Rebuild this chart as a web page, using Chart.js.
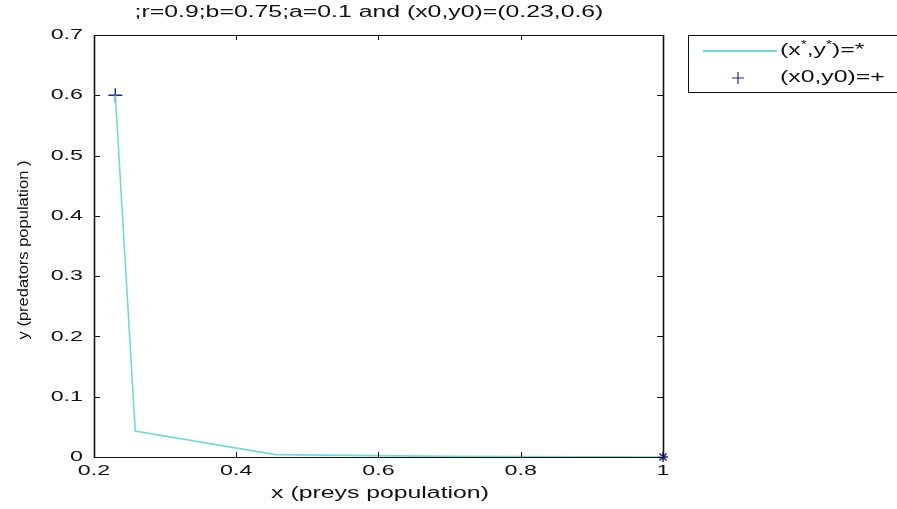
<!DOCTYPE html>
<html>
<head>
    <style>
        body { margin: 0; background: #fff; }
        #wrap { width: 897px; height: 509px; }
    </style>
    <script src="https://cdn.jsdelivr.net/npm/chart.js"></script>
    <title>Predator-prey</title>
</head>
<body>
    <div id="wrap"><canvas id="chart" width="897" height="509"></canvas></div>
    <script>
        // trajectory values
        const trajX = [0.23, 0.258, 0.455, 0.7, 1.0];
        const trajY = [0.6, 0.043, 0.004, 0.001, 0.0];
        const startX = [0.23];
        const startY = [0.6];
        const endX = [1.0];
        const endY = [0.0];

        const xTicks = [0.2, 0.4, 0.6, 0.8, 1.0];
        const xLabels = ['0.2', '0.4', '0.6', '0.8', '1'];
        const yTicks = [0, 0.1, 0.2, 0.3, 0.4, 0.5, 0.6, 0.7];
        const yLabels = ['0', '0.1', '0.2', '0.3', '0.4', '0.5', '0.6', '0.7'];

        const chartTitle = ';r=0.9;b=0.75;a=0.1 and (x0,y0)=(0.23,0.6)';
        const xTitle = 'x (preys population)';
        const yTitle = 'y (predators population )';

        const font = '"Liberation Sans", Arial, sans-serif';
        const lineColor = '#72d9dc';
        const markColor = '#1c2a8c';
        const stretch = 1.55;   // the picture's text is wider than it is tall

        const pts = (xs, ys) => xs.map((x, i) => ({ x: x, y: ys[i] }));

        // text drawn wider than normal, like the reference
        function wideText(ctx, t, x, y, align, size) {
            ctx.save();
            ctx.font = size + 'px ' + font;
            ctx.translate(x, y);
            ctx.scale(stretch, 1);
            ctx.textAlign = align;
            ctx.textBaseline = 'middle';
            ctx.fillText(t, 0, 0);
            const w = ctx.measureText(t).width * stretch;
            ctx.restore();
            return w;
        }

        // box, inward ticks, labels, titles and legend
        const decor = {
            id: 'decor',
            afterDraw(chart) {
                const ctx = chart.ctx;
                const a = chart.chartArea;
                const xs = chart.scales.x, ys = chart.scales.y;
                ctx.save();
                ctx.strokeStyle = '#111';
                ctx.lineWidth = 1;
                ctx.beginPath();
                ctx.moveTo(a.left, a.top + 0.5); ctx.lineTo(a.right, a.top + 0.5);
                ctx.moveTo(a.left, a.bottom + 0.5); ctx.lineTo(a.right, a.bottom + 0.5);
                xTicks.forEach(v => {
                    const px = Math.round(xs.getPixelForValue(v)) + 0.5;
                    ctx.moveTo(px, a.bottom); ctx.lineTo(px, a.bottom - 5);
                    ctx.moveTo(px, a.top); ctx.lineTo(px, a.top + 5);
                });
                yTicks.forEach(v => {
                    const py = Math.round(ys.getPixelForValue(v)) + 0.5;
                    ctx.moveTo(a.left, py); ctx.lineTo(a.left + 6, py);
                    ctx.moveTo(a.right, py); ctx.lineTo(a.right - 6, py);
                });
                ctx.stroke();
                ctx.lineWidth = 1.6;
                ctx.beginPath();
                ctx.moveTo(a.left + 0.5, a.top); ctx.lineTo(a.left + 0.5, a.bottom + 1);
                ctx.moveTo(a.right + 0.5, a.top); ctx.lineTo(a.right + 0.5, a.bottom + 1);
                ctx.stroke();

                ctx.fillStyle = '#111';
                xTicks.forEach((v, i) => wideText(ctx, xLabels[i], xs.getPixelForValue(v), 471, 'center', 15));
                yTicks.forEach((v, i) => wideText(ctx, yLabels[i], 83, ys.getPixelForValue(v), 'right', 15));

                wideText(ctx, chartTitle, 369, 13, 'center', 16);
                wideText(ctx, xTitle, 380, 494, 'center', 16);
                ctx.save();
                ctx.translate(24, 250);
                ctx.rotate(-Math.PI / 2);
                ctx.font = '15px ' + font;
                ctx.textAlign = 'center';
                ctx.textBaseline = 'middle';
                ctx.scale(1.1, 1);
                ctx.fillText(yTitle, 0, 0);
                ctx.restore();

                // legend
                ctx.strokeStyle = '#111';
                ctx.lineWidth = 1;
                ctx.strokeRect(688.5, 35.5, 230, 57);
                ctx.strokeStyle = lineColor;
                ctx.lineWidth = 2;
                ctx.beginPath();
                ctx.moveTo(703, 51); ctx.lineTo(777, 51);
                ctx.stroke();
                ctx.strokeStyle = markColor;
                ctx.lineWidth = 1.2;
                ctx.beginPath();
                ctx.moveTo(732, 78); ctx.lineTo(744, 78);
                ctx.moveTo(738, 72); ctx.lineTo(738, 84);
                ctx.stroke();

                let x = 780;
                x += wideText(ctx, '(x', x, 51, 'left', 16);
                x += wideText(ctx, '*', x, 45, 'left', 10);
                x += wideText(ctx, ',y', x, 51, 'left', 16);
                x += wideText(ctx, '*', x, 45, 'left', 10);
                wideText(ctx, ')=*', x, 51, 'left', 16);
                wideText(ctx, '(x0,y0)=+', 780, 78, 'left', 16);
                ctx.restore();
            }
        };

        new Chart(document.getElementById('chart'), {
            type: 'scatter',
            data: {
                datasets: [{
                    label: 'trajectory',
                    data: pts(trajX, trajY),
                    showLine: true,
                    borderColor: lineColor,
                    borderWidth: 1.6,
                    pointRadius: 0,
                    tension: 0,
                    clip: false
                }, {
                    label: 'start',
                    data: pts(startX, startY),
                    pointStyle: 'cross',
                    pointRadius: 7,
                    borderColor: markColor,
                    borderWidth: 1.5,
                    clip: false
                }, {
                    label: 'end',
                    data: pts(endX, endY),
                    pointStyle: 'star',
                    pointRadius: 5,
                    borderColor: markColor,
                    borderWidth: 1.5,
                    clip: false
                }]
            },
            options: {
                responsive: false,
                animation: false,
                layout: { padding: { left: 0, right: 234, top: 35, bottom: 0 } },
                plugins: { legend: { display: false }, tooltip: { enabled: false } },
                scales: {
                    x: {
                        type: 'linear',
                        min: 0.2,
                        max: 1.0,
                        afterBuildTicks: s => { s.ticks = xTicks.map(v => ({ value: v })); },
                        afterFit: s => { s.height = 52; },
                        grid: { display: false, drawTicks: false },
                        border: { display: false },
                        ticks: { display: false }
                    },
                    y: {
                        type: 'linear',
                        min: 0,
                        max: 0.7,
                        afterBuildTicks: s => { s.ticks = yTicks.map(v => ({ value: v })); },
                        afterFit: s => { s.width = 94; },
                        grid: { display: false, drawTicks: false },
                        border: { display: false },
                        ticks: { display: false }
                    }
                }
            },
            plugins: [decor]
        });
    </script>
</body>
</html>
